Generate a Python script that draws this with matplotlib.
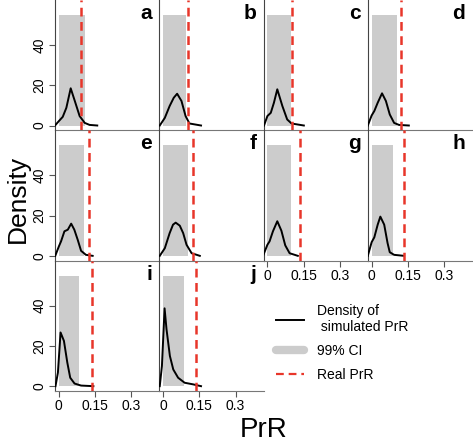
import matplotlib
matplotlib.use("Agg")
import matplotlib.pyplot as plt
from matplotlib.lines import Line2D

plt.rcParams['font.family'] = ['Liberation Sans', 'DejaVu Sans']

panels = ['a', 'b', 'c', 'd', 'e', 'f', 'g', 'h', 'i', 'j']

# density of simulated PrR
dens_x = {
    'a': [-0.016, 0.0, 0.016, 0.031, 0.049, 0.066, 0.086, 0.107, 0.127, 0.159],
    'b': [-0.014, 0.007, 0.027, 0.044, 0.058, 0.076, 0.093, 0.109, 0.157],
    'c': [-0.014, 0.0, 0.014, 0.027, 0.041, 0.062, 0.082, 0.100, 0.151],
    'd': [-0.016, 0.0, 0.011, 0.025, 0.043, 0.059, 0.075, 0.093, 0.113, 0.154],
    'e': [-0.015, 0.0, 0.009, 0.023, 0.037, 0.051, 0.064, 0.078, 0.092, 0.112, 0.140],
    'f': [-0.014, 0.007, 0.027, 0.041, 0.052, 0.069, 0.083, 0.097, 0.118, 0.152],
    'g': [-0.018, 0.0, 0.009, 0.023, 0.041, 0.058, 0.074, 0.092, 0.126],
    'h': [-0.016, 0.0, 0.011, 0.025, 0.036, 0.052, 0.066, 0.075, 0.093, 0.134],
    'i': [-0.014, -0.004, 0.007, 0.021, 0.035, 0.047, 0.065, 0.092, 0.143],
    'j': [-0.014, -0.005, 0.006, 0.014, 0.028, 0.042, 0.062, 0.089, 0.124, 0.157],
}
dens_y = {
    'a': [0, 2.2, 4.3, 8.8, 18.5, 12.2, 4.7, 1.3, 0.3, 0],
    'b': [0, 3.8, 9.7, 13.8, 15.8, 12.2, 4.7, 1.0, 0],
    'c': [0, 4.7, 6.3, 11.3, 18.0, 9.7, 3.0, 1.0, 0],
    'd': [0, 5.0, 7.2, 11.3, 16.0, 12.2, 5.5, 1.3, 0.3, 0],
    'e': [0, 4.7, 7.2, 12.2, 13.0, 16.0, 13.0, 8.0, 2.5, 0.5, 0],
    'f': [0, 3.8, 11.3, 15.5, 16.5, 15.0, 11.3, 5.5, 1.3, 0],
    'g': [0, 5.5, 7.2, 12.2, 17.2, 12.5, 5.2, 1.3, 0],
    'h': [0, 6.8, 9.2, 15.5, 19.5, 15.5, 6.3, 1.8, 0.5, 0],
    'i': [0, 6.7, 26.7, 22.5, 11.7, 4.2, 1.3, 0.3, 0],
    'j': [0, 10.0, 38.7, 28.3, 15.0, 8.3, 4.2, 1.7, 0.9, 0],
}
ci_low = [0, 0, 0, 0, 0, 0, 0, 0, 0, 0]
ci_high = [0.109, 0.095, 0.099, 0.104, 0.104, 0.104, 0.098, 0.090, 0.082, 0.086]
ci_top = 55
real_prr = [0.090, 0.105, 0.103, 0.120, 0.123, 0.125, 0.135, 0.132, 0.138, 0.138]

xticks = [0, 0.15, 0.3]
xticklabels = ['0', '0.15', '0.3']
yticks = [0, 20, 40]

red = '#e8362a'
gray = '#cccccc'

fig = plt.figure(figsize=(4.73, 4.43), dpi=100)
gs = fig.add_gridspec(3, 4, left=0.1163, right=0.998, bottom=0.1174, top=1.0,
                      wspace=0, hspace=0)

for k, p in enumerate(panels):
    r, c = divmod(k, 4)
    ax = fig.add_subplot(gs[r, c])
    ax.patch.set_visible(False)
    ax.bar(ci_low[k], ci_top, width=ci_high[k] - ci_low[k], align='edge',
           color=gray, linewidth=0, zorder=1)
    ax.plot(dens_x[p], dens_y[p], color='black', lw=1.4, zorder=3)
    ax.axvline(real_prr[k], color=red, lw=1.8, ls=(0, (3.5, 2.2)), zorder=4)
    ax.set_xlim(-0.016, 0.416)
    ax.set_ylim(-2.4, 62.4)
    ax.spines['top'].set_visible(False)
    ax.spines['right'].set_visible(False)
    ax.spines['left'].set_color('#444444')
    ax.spines['bottom'].set_color('#777777')
    ax.spines['bottom'].set_zorder(5)
    ax.text(0.93, 0.97, p, transform=ax.transAxes, ha='right', va='top',
            fontsize=15, fontweight='bold')

    # x tick labels only where no panel sits below
    has_below = k + 4 < len(panels)
    if has_below:
        ax.set_xticks([])
    else:
        ax.set_xticks(xticks)
        ax.set_xticklabels(xticklabels, fontsize=10)
        ax.tick_params(axis='x', length=4, width=0.8, color='#555555', pad=2)
    if c == 0:
        ax.set_yticks(yticks)
        ax.set_yticklabels([str(t) for t in yticks], fontsize=10, rotation=90,
                           va='center')
        ax.tick_params(axis='y', length=4, width=0.8, color='#555555', pad=2)
    else:
        ax.set_yticks([])

fig.text(0.038, 0.55, 'Density', rotation=90, ha='center', va='center',
         fontsize=19)
fig.text(0.558, 0.03, 'PrR', ha='center', va='center', fontsize=20)

handles = [
    Line2D([], [], color='black', lw=1.4),
    Line2D([], [], color=gray, lw=6, solid_capstyle='round'),
    Line2D([], [], color=red, lw=1.6, ls=(0, (3.5, 2.2))),
]
labels = ['Density of\n simulated PrR', '99% CI', 'Real PrR']
fig.legend(handles, labels, loc='upper left', bbox_to_anchor=(0.583, 0.314),
           frameon=False, fontsize=10, handlelength=2.0, handletextpad=1.0,
           labelspacing=0.7, borderpad=0, borderaxespad=0)

fig.savefig('out.png', dpi=100)
